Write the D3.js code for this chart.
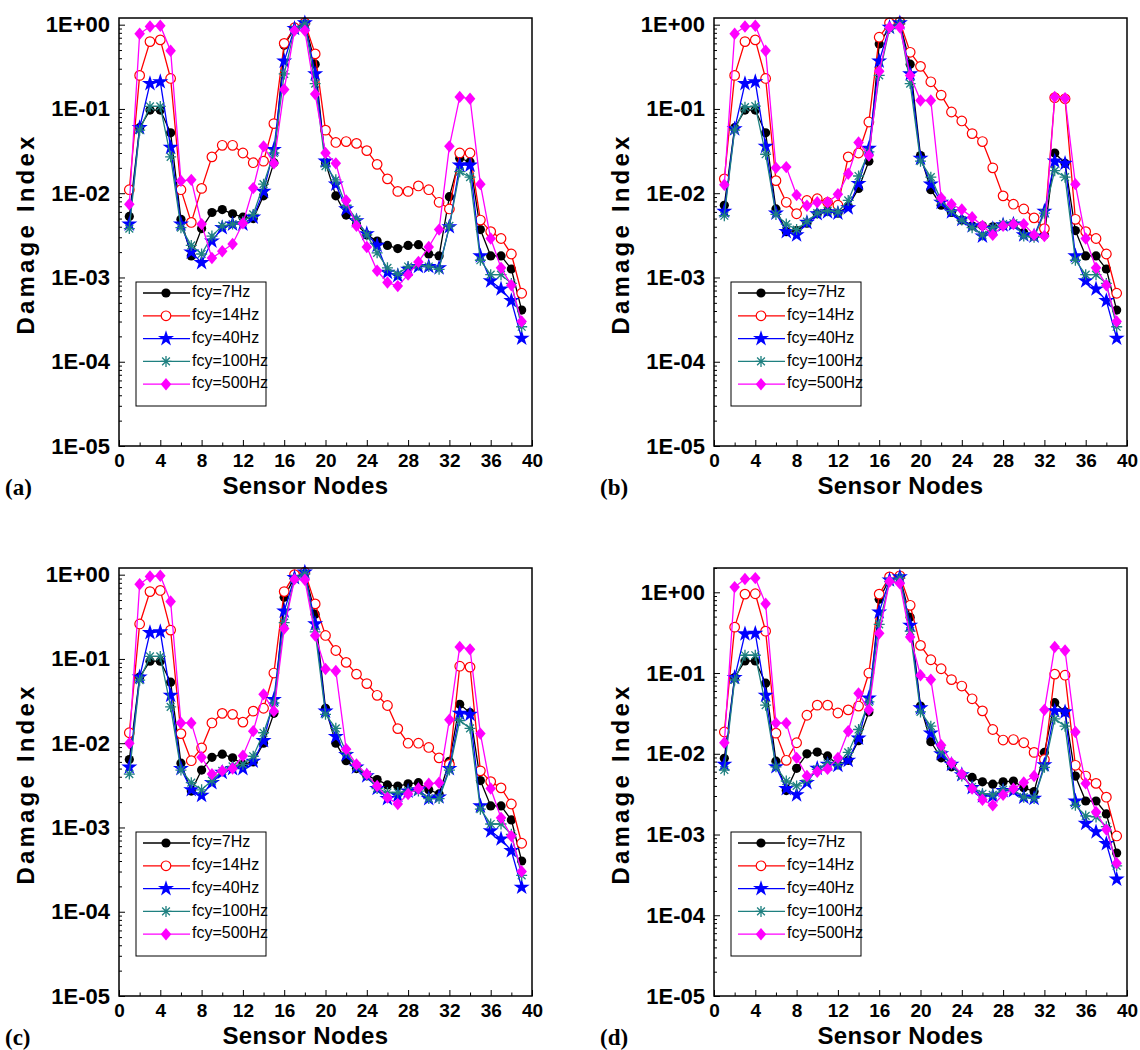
<!DOCTYPE html>
<html>
<head>
<meta charset="utf-8">
<script src="https://cdn.jsdelivr.net/npm/d3@7"></script>
<style>
  html, body { margin: 0; padding: 0; background: #fff; }
  svg { display: block; }
</style>
</head>
<body>
<svg id="chart" width="1140" height="1050"></svg>
<script>
// Sensor node index along the beam
const nodes = [1,2,3,4,5,6,7,8,9,10,11,12,13,14,15,16,17,18,19,20,21,22,23,24,25,26,27,28,29,30,31,32,33,34,35,36,37,38,39];

// Legend labels, one per excitation frequency
const seriesLabels = ["fcy=7Hz", "fcy=14Hz", "fcy=40Hz", "fcy=100Hz", "fcy=500Hz"];

// Axis tick values
const xTicks = [0,4,8,12,16,20,24,28,32,36,40];
const yTickValues = [1, 1e-1, 1e-2, 1e-3, 1e-4, 1e-5];
const yTickLabels = ["1E+00", "1E-01", "1E-02", "1E-03", "1E-04", "1E-05"];
const panelLabels = ["(a)", "(b)", "(c)", "(d)"];

// ---- Panel (a) damage index ----
const a7   = [5.3e-3,0.060,0.097,0.097,0.052,4.9e-3,1.8e-3,3.8e-3,5.9e-3,6.4e-3,5.7e-3,5.2e-3,5.0e-3,9.3e-3,0.023,0.57,0.90,1.05,0.34,0.023,9.3e-3,5.5e-3,4.3e-3,3.2e-3,2.7e-3,2.4e-3,2.2e-3,2.4e-3,2.45e-3,1.9e-3,1.8e-3,9.1e-3,0.026,0.0235,3.7e-3,1.8e-3,1.8e-3,1.26e-3,4.1e-4];
const a14  = [0.011,0.25,0.63,0.66,0.23,0.011,4.5e-3,0.0114,0.027,0.037,0.037,0.030,0.023,0.024,0.067,0.60,0.92,1.05,0.45,0.056,0.040,0.041,0.039,0.032,0.022,0.0148,0.0105,0.0105,0.0122,0.011,7.8e-3,6.5e-3,0.030,0.030,4.8e-3,3.5e-3,2.9e-3,1.9e-3,6.5e-4];
const a40  = [4.3e-3,0.060,0.20,0.21,0.035,4.3e-3,2.0e-3,1.5e-3,2.7e-3,3.9e-3,4.3e-3,4.3e-3,5.2e-3,0.0105,0.033,0.37,0.90,1.05,0.26,0.024,0.0128,6.5e-3,4.7e-3,3.3e-3,2.4e-3,1.15e-3,1.05e-3,1.25e-3,1.35e-3,1.35e-3,1.3e-3,4.0e-3,0.0215,0.0215,1.8e-3,9.1e-4,7.3e-4,5.3e-4,1.9e-4];
const a100 = [3.8e-3,0.056,0.107,0.107,0.027,3.9e-3,2.4e-3,1.9e-3,3.1e-3,4.1e-3,4.3e-3,4.6e-3,5.6e-3,0.0128,0.030,0.26,0.88,1.02,0.20,0.021,0.0144,7.2e-3,4.9e-3,3.2e-3,1.96e-3,1.3e-3,1.1e-3,1.35e-3,1.4e-3,1.35e-3,1.25e-3,4.1e-3,0.018,0.0155,1.6e-3,1.08e-3,1.08e-3,8.5e-4,2.6e-4];
const a500 = [7.4e-3,0.78,0.95,0.97,0.49,0.014,0.0144,4.3e-3,1.7e-3,2.05e-3,2.5e-3,4.4e-3,0.0115,0.036,0.0226,0.17,0.85,0.85,0.15,0.030,0.0226,8.2e-3,4.1e-3,2.3e-3,1.2e-3,8.7e-4,7.9e-4,1.08e-3,1.53e-3,2.3e-3,3.7e-3,0.036,0.139,0.132,0.0128,2.9e-3,1.3e-3,8.1e-4,3.0e-4];

// ---- Panel (b) damage index ----
const b7   = [7.2e-3,0.060,0.097,0.097,0.052,6.5e-3,3.5e-3,3.6e-3,4.4e-3,5.7e-3,6.1e-3,5.8e-3,7.0e-3,0.0114,0.024,0.59,0.93,1.05,0.34,0.028,0.011,7.2e-3,5.9e-3,4.8e-3,4.1e-3,4.1e-3,4.0e-3,4.1e-3,4.3e-3,3.4e-3,3.1e-3,3.2e-3,0.030,0.0226,3.6e-3,1.8e-3,1.8e-3,1.26e-3,4.1e-4];
const b14  = [0.0148,0.25,0.63,0.66,0.23,0.0141,7.8e-3,5.7e-3,8.2e-3,8.6e-3,7.8e-3,7.2e-3,0.027,0.030,0.070,0.71,1.05,1.08,0.47,0.32,0.21,0.146,0.092,0.072,0.051,0.041,0.020,9.3e-3,7.4e-3,6.5e-3,5.1e-3,3.8e-3,0.136,0.132,4.9e-3,3.5e-3,2.9e-3,1.9e-3,6.5e-4];
const b40  = [6.1e-3,0.058,0.20,0.21,0.036,5.8e-3,3.5e-3,3.2e-3,4.5e-3,5.7e-3,6.0e-3,5.8e-3,6.7e-3,0.013,0.034,0.37,0.93,1.05,0.26,0.026,0.0128,7.8e-3,6.0e-3,4.9e-3,4.1e-3,3.1e-3,3.8e-3,4.2e-3,4.3e-3,3.2e-3,3.1e-3,6.1e-3,0.024,0.0226,1.8e-3,9.1e-4,7.3e-4,5.3e-4,1.9e-4];
const b100 = [5.4e-3,0.056,0.105,0.108,0.029,5.6e-3,4.3e-3,3.7e-3,4.6e-3,5.8e-3,6.2e-3,6.0e-3,8.2e-3,0.016,0.031,0.25,0.90,1.02,0.20,0.024,0.0155,8.2e-3,6.2e-3,4.8e-3,3.9e-3,3.2e-3,3.9e-3,4.3e-3,4.4e-3,3.1e-3,3.0e-3,5.8e-3,0.0185,0.0155,1.6e-3,1.08e-3,1.08e-3,8.5e-4,2.6e-4];
const b500 = [0.0126,0.78,0.95,0.97,0.49,0.020,0.0204,9.5e-3,7.1e-3,7.8e-3,7.8e-3,9.7e-3,0.017,0.040,0.028,0.28,0.93,0.93,0.25,0.126,0.126,8.8e-3,7.4e-3,6.4e-3,5.2e-3,4.1e-3,3.2e-3,4.1e-3,4.3e-3,4.3e-3,3.2e-3,3.1e-3,0.139,0.134,0.0128,2.9e-3,1.3e-3,8.1e-4,3.0e-4];

// ---- Panel (c) damage index ----
const c7   = [6.4e-3,0.061,0.094,0.094,0.053,5.8e-3,2.7e-3,4.8e-3,6.8e-3,7.4e-3,6.7e-3,5.6e-3,6.0e-3,0.010,0.0226,0.54,0.93,1.05,0.34,0.026,0.010,6.2e-3,5.0e-3,4.1e-3,3.7e-3,3.2e-3,3.1e-3,3.3e-3,3.4e-3,2.8e-3,2.5e-3,6.1e-3,0.029,0.023,3.6e-3,1.8e-3,1.8e-3,1.23e-3,4.0e-4];
const c14  = [0.0133,0.26,0.63,0.65,0.22,0.013,6.2e-3,8.8e-3,0.0174,0.0226,0.022,0.0178,0.024,0.026,0.068,0.63,1.0,1.07,0.45,0.19,0.126,0.091,0.066,0.051,0.037,0.028,0.0149,0.010,0.010,8.9e-3,6.7e-3,5.6e-3,0.082,0.080,4.7e-3,3.5e-3,2.95e-3,1.9e-3,6.5e-4];
const c40  = [5.2e-3,0.061,0.205,0.21,0.037,5.0e-3,2.8e-3,2.4e-3,3.4e-3,4.5e-3,5.0e-3,5.0e-3,6.1e-3,0.0107,0.033,0.37,0.92,1.07,0.26,0.024,0.012,7.3e-3,5.2e-3,4.1e-3,2.9e-3,2.2e-3,2.4e-3,2.7e-3,2.8e-3,2.2e-3,2.3e-3,5.0e-3,0.0226,0.022,1.8e-3,9.1e-4,7.3e-4,5.3e-4,1.95e-4];
const c100 = [4.3e-3,0.056,0.107,0.107,0.027,4.8e-3,3.4e-3,2.8e-3,3.6e-3,4.7e-3,5.3e-3,5.6e-3,7.0e-3,0.0133,0.030,0.27,0.90,1.02,0.21,0.022,0.015,7.8e-3,5.3e-3,4.2e-3,2.9e-3,2.6e-3,2.6e-3,2.7e-3,2.7e-3,2.2e-3,2.2e-3,4.8e-3,0.0186,0.015,1.65e-3,1.1e-3,1.1e-3,8.3e-4,2.7e-4];
const c500 = [0.010,0.77,0.95,0.97,0.48,0.0174,0.0174,6.8e-3,4.3e-3,4.7e-3,5.0e-3,7.1e-3,0.0139,0.038,0.024,0.23,0.88,0.87,0.19,0.076,0.072,8.5e-3,5.6e-3,4.3e-3,3.1e-3,2.26e-3,1.9e-3,2.5e-3,2.9e-3,3.3e-3,3.4e-3,0.019,0.139,0.13,0.013,2.9e-3,1.3e-3,7.9e-4,3.0e-4];

// ---- Panel (d) damage index ----
const d7   = [8.8e-3,0.088,0.141,0.141,0.075,8.1e-3,3.5e-3,6.6e-3,0.010,0.0105,9.4e-3,7.3e-3,8.3e-3,0.0145,0.033,0.82,1.45,1.55,0.49,0.039,0.0141,8.9e-3,6.9e-3,5.5e-3,5.1e-3,4.5e-3,4.2e-3,4.5e-3,4.6e-3,3.8e-3,3.4e-3,0.0104,0.043,0.033,5.3e-3,2.6e-3,2.6e-3,1.8e-3,5.9e-4];
const d14  = [0.0186,0.37,0.95,0.96,0.33,0.018,8.3e-3,0.0137,0.030,0.040,0.040,0.032,0.035,0.039,0.10,0.95,1.55,1.6,0.69,0.22,0.146,0.113,0.083,0.069,0.048,0.034,0.020,0.0148,0.015,0.0137,0.0104,8.5e-3,0.097,0.094,7.2e-3,5.3e-3,4.3e-3,2.9e-3,9.6e-4];
const d40  = [7.4e-3,0.088,0.305,0.31,0.053,6.9e-3,3.7e-3,3.1e-3,4.4e-3,6.6e-3,7.4e-3,7.2e-3,8.3e-3,0.0156,0.049,0.57,1.42,1.55,0.39,0.037,0.018,0.010,7.4e-3,5.5e-3,3.8e-3,3.0e-3,3.0e-3,3.5e-3,3.5e-3,2.9e-3,2.8e-3,7.3e-3,0.034,0.033,2.6e-3,1.37e-3,1.08e-3,7.7e-4,2.8e-4];
const d100 = [6.3e-3,0.082,0.166,0.166,0.040,6.9e-3,4.6e-3,4.0e-3,4.7e-3,6.4e-3,7.6e-3,7.6e-3,0.0104,0.020,0.044,0.40,1.36,1.5,0.33,0.033,0.022,0.0108,7.4e-3,5.3e-3,3.9e-3,3.2e-3,3.1e-3,3.6e-3,3.6e-3,2.9e-3,2.8e-3,6.8e-3,0.027,0.022,2.3e-3,1.7e-3,1.65e-3,1.25e-3,4.1e-4];
const d500 = [0.0137,1.16,1.46,1.5,0.72,0.024,0.024,8.9e-3,5.3e-3,6.0e-3,6.5e-3,8.9e-3,0.019,0.056,0.035,0.31,1.36,1.29,0.28,0.094,0.083,0.0128,7.7e-3,5.6e-3,3.7e-3,2.7e-3,2.3e-3,3.1e-3,3.7e-3,4.4e-3,5.3e-3,0.035,0.21,0.19,0.0186,4.3e-3,1.9e-3,1.15e-3,4.4e-4];

// Series grouped per panel (order follows the legend)
const panelSeries = [
  [a7, a14, a40, a100, a500],
  [b7, b14, b40, b100, b500],
  [c7, c14, c40, c100, c500],
  [d7, d14, d40, d100, d500]
];

// ---- Styling ----
const colors = ["#000000", "#ff0000", "#0000ff", "#1f8080", "#ff00ff"];
const FONT = "Liberation Sans, Arial, Helvetica, sans-serif";

// Plot-frame geometry of each panel
const frames = [
  { left: 119, top: 18,  yMax: 1.2 },
  { left: 714, top: 18,  yMax: 1.2 },
  { left: 119, top: 568, yMax: 1.2 },
  { left: 714, top: 568, yMax: 2.0 }
];
const W = 413, H = 428;

const svg = d3.select("#chart");

// Marker drawing helpers
function drawMarker(g, kind, color) {
  if (kind === 0) {
    g.append("circle").attr("r", 4.6).attr("fill", color);
  } else if (kind === 1) {
    g.append("circle").attr("r", 4.8).attr("fill", "#fff")
      .attr("stroke", color).attr("stroke-width", 1.2);
  } else if (kind === 2) {
    g.append("path").attr("d", d3.symbol(d3.symbolStar, 80)()).attr("fill", color);
  } else if (kind === 3) {
    const r = 5.5;
    let d = "";
    [0, 45, 90, 135].forEach(a => {
      const t = a * Math.PI / 180;
      d += `M${-r*Math.cos(t)},${-r*Math.sin(t)}L${r*Math.cos(t)},${r*Math.sin(t)}`;
    });
    g.append("path").attr("d", d).attr("stroke", color).attr("stroke-width", 1.3).attr("fill", "none");
  } else {
    const s = 6.2;
    g.append("path").attr("d", `M0,${-s}L${s*0.85},0L0,${s}L${-s*0.85},0Z`).attr("fill", color);
  }
}

frames.forEach((f, pi) => {
  const g = svg.append("g").attr("transform", `translate(${f.left},${f.top})`);
  const x = d3.scaleLinear().domain([0, 40]).range([0, W]);
  const y = d3.scaleLog().domain([1e-5, f.yMax]).range([H, 0]);

  // Lines and markers
  const line = d3.line().x((d, i) => x(nodes[i])).y(d => y(d));
  panelSeries[pi].forEach((vals, si) => {
    g.append("path").datum(vals).attr("d", line)
      .attr("fill", "none").attr("stroke", colors[si]).attr("stroke-width", 1.3);
    vals.forEach((v, i) => {
      const m = g.append("g").attr("transform", `translate(${x(nodes[i])},${y(v)})`);
      drawMarker(m, si, colors[si]);
    });
  });

  // Frame
  g.append("rect").attr("width", W).attr("height", H)
    .attr("fill", "none").attr("stroke", "#000").attr("stroke-width", 1.5);

  // X axis (ticks pointing inward)
  const xMinor = d3.range(2, 40, 4);
  g.append("g").attr("transform", `translate(0,${H})`)
    .call(d3.axisBottom(x).tickValues(xMinor).tickSize(-3.5).tickFormat(""))
    .call(a => a.select(".domain").remove());
  const xa = g.append("g").attr("transform", `translate(0,${H})`)
    .call(d3.axisBottom(x).tickValues(xTicks).tickSize(-6).tickPadding(8).tickFormat(d3.format("d")));
  xa.select(".domain").remove();
  xa.selectAll("text").attr("font-family", FONT).attr("font-weight", "bold")
    .attr("font-size", 19).attr("fill", "#000").attr("dy", "0.71em");

  // Y axis: major decades and minor log ticks
  const minorY = [];
  for (let e = -5; e <= 0; e++) {
    for (let k = 2; k <= 9; k++) {
      const v = k * Math.pow(10, e);
      if (v <= f.yMax) minorY.push(v);
    }
  }
  g.append("g").call(d3.axisLeft(y).tickValues(minorY).tickSize(-3).tickFormat(""))
    .call(a => a.select(".domain").remove());
  const ya = g.append("g")
    .call(d3.axisLeft(y).tickValues(yTickValues).tickSize(-6).tickPadding(9)
      .tickFormat((d, i) => yTickLabels[i]));
  ya.select(".domain").remove();
  ya.selectAll("text").attr("font-family", FONT).attr("font-weight", "bold")
    .attr("font-size", 22).attr("fill", "#000");

  // Axis titles
  g.append("text").attr("transform", `translate(${-91},${H/2 + 2}) rotate(-90)`)
    .attr("text-anchor", "middle").attr("dominant-baseline", "middle")
    .attr("font-family", FONT).attr("font-weight", "bold").attr("font-size", 24)
    .attr("letter-spacing", 3.2)
    .text("Damage Index");
  g.append("text").attr("x", W / 2 - 20).attr("y", H + 42)
    .attr("text-anchor", "middle").attr("dominant-baseline", "middle")
    .attr("font-family", FONT).attr("font-weight", "bold").attr("font-size", 24)
    .attr("letter-spacing", 0.4)
    .text("Sensor Nodes");

  // Panel tag
  g.append("text").attr("x", -114).attr("y", H + 49)
    .attr("font-family", "Liberation Serif, Times New Roman, serif").attr("font-weight", "bold")
    .attr("font-size", 23).text(panelLabels[pi]);

  // Legend
  const lg = g.append("g").attr("transform", `translate(17,${H - 164})`);
  lg.append("rect").attr("width", 130).attr("height", 124)
    .attr("fill", "#fff").attr("stroke", "#000").attr("stroke-width", 1);
  seriesLabels.forEach((lab, si) => {
    const yy = 11 + si * 22.8;
    lg.append("line").attr("x1", 7).attr("x2", 54).attr("y1", yy).attr("y2", yy)
      .attr("stroke", colors[si]).attr("stroke-width", 1.3);
    const m = lg.append("g").attr("transform", `translate(30,${yy})`);
    drawMarker(m, si, colors[si]);
    lg.append("text").attr("x", 56).attr("y", yy).attr("dominant-baseline", "middle")
      .attr("font-family", FONT).attr("font-size", 16).text(lab);
  });
});
</script>
</body>
</html>
